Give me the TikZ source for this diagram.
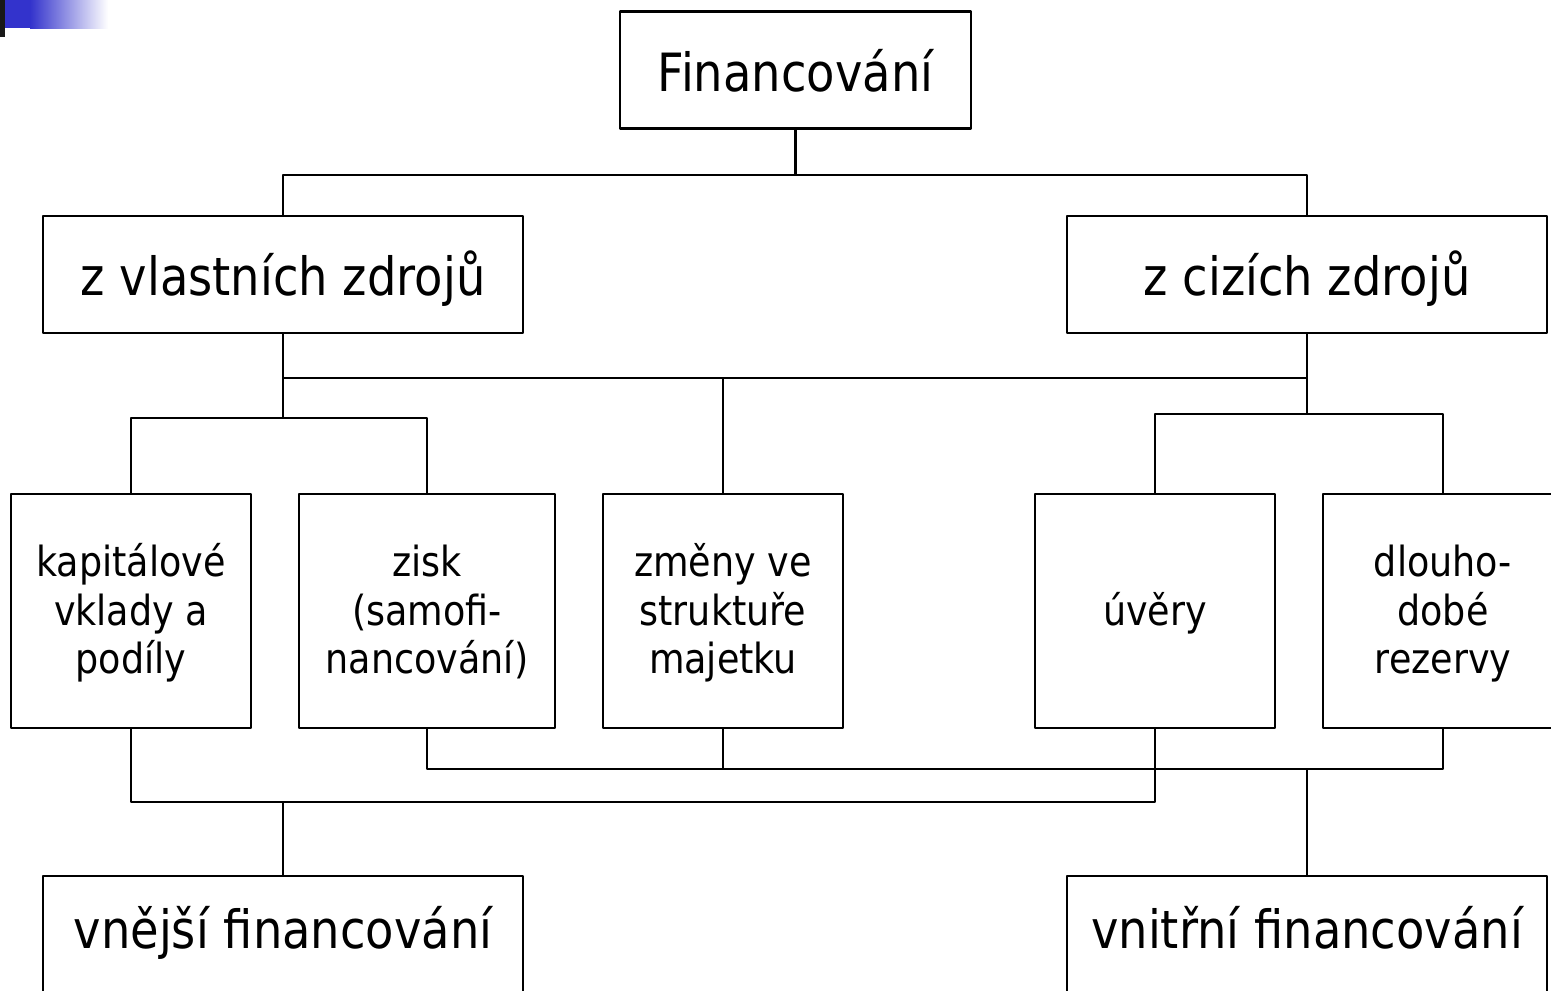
\documentclass[tikz,border=0pt]{standalone}
\usepackage{fontspec}
\setmainfont[FakeStretch=0.88]{DejaVu Sans}
\definecolor{pruh}{RGB}{51,51,204}
\begin{document}
\begin{tikzpicture}[line join=round,line width=.6pt,
	velky/.style={draw,minimum width=4.8cm,minimum height=1.17cm,inner sep=0pt,text height=15pt,text depth=3pt,font=\fontsize{15}{18}\selectfont},
	maly/.style={draw,minimum width=2.4cm,minimum height=2.34cm,inner sep=0pt,align=center,text height=38.8pt,text depth=3pt,font=\fontsize{11.8}{13.9}\selectfont}]
		\useasboundingbox (0,0) rectangle (15.51,-9.90);
		% znacka vlevo nahore
		\fill[pruh] (.05,0) rectangle (.30,-.28);
		\shade[left color=pruh,right color=white] (.30,0) rectangle (1.08,-.28);
		\fill[black!90] (0,0) rectangle (.05,-.37);
		\path 
		(7.955,-.70) node[velky,minimum width=3.51cm] (fin) {Financování}
		(2.83,-2.745) node[velky] (vlastni) {z vlastních zdrojů}
		(13.07,-2.745) node[velky] (cizi) {z cizích zdrojů}
		(1.31,-6.11) node[maly] (kapital) {kapitálové\\vklady a\\podíly}
		(4.27,-6.11) node[maly,minimum width=2.56cm] (zisk) {zisk\\(samofi-\\nancování)}
		(7.23,-6.11) node[maly] (zmeny) {změny ve\\struktuře\\majetku}
		(11.55,-6.11) node[maly,text height=11pt,text depth=3pt] (uvery) {úvěry}
		(14.43,-6.11) node[maly] (rezervy) {dlouho-\\dobé\\rezervy}
		(2.83,-9.345) node[velky,text height=11pt,text depth=3.3pt] (vnejsi) {vnější financování}
		(13.07,-9.345) node[velky,text height=11pt,text depth=3.3pt] (vnitrni) {vnitřní financování}
		;
			\draw (fin.south)--+(0,-.45)coordinate (t1);
			\draw (vlastni.north)|-(t1)-|(cizi.north);
			\draw (vlastni.south)--+(0,-.84)coordinate (m1);
			\draw (kapital.north)|-(m1)-|(zisk.north);
			\path (vlastni.south)+(0,-.44)coordinate (m0);
			\draw (m0)--(m0-|cizi.south) (zmeny.north)--(zmeny.north|-m0);
			\draw (cizi.south)--+(0,-.80)coordinate (m2);
			\draw (uvery.north)|-(m2)-|(rezervy.north);
			\draw (kapital.south)--+(0,-.73)coordinate (b1)-|(uvery.south);
			\draw (vnejsi.north)--(vnejsi.north|-b1);
			\draw (zisk.south)--+(0,-.40)coordinate (b2)-|(rezervy.south);
			\draw (zmeny.south)--(zmeny.south|-b2) (vnitrni.north)--(vnitrni.north|-b2);
			\end{tikzpicture}
\end{document}
